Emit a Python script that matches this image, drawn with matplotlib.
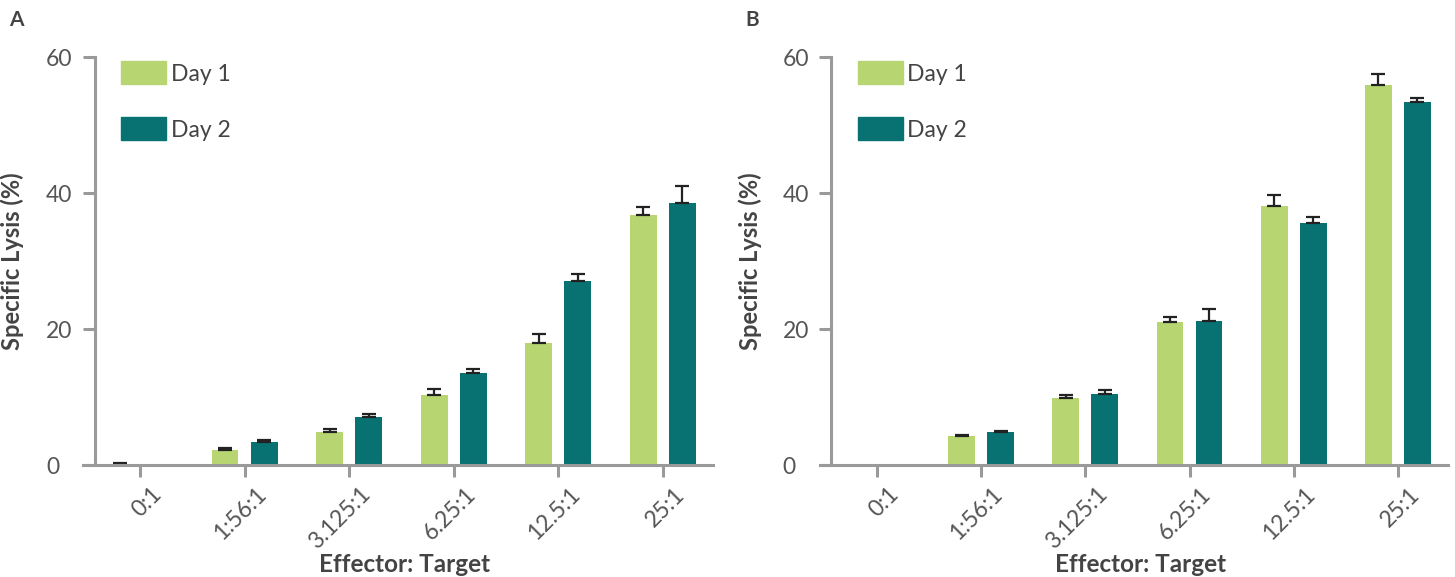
import matplotlib
matplotlib.use('Agg')
import matplotlib.pyplot as plt
from matplotlib.patches import Rectangle
from matplotlib.transforms import ScaledTranslation
import numpy as np

plt.rcParams['font.family'] = ['Lato', 'DejaVu Sans']

ratios = ['0:1', '1:56:1', '3.125:1', '6.25:1', '12.5:1', '25:1']

# panel A
a_day1 = [0.15, 2.2, 4.85, 10.3, 17.9, 36.8]
a_day1_err = [0.1, 0.3, 0.5, 0.9, 1.4, 1.1]
a_day2 = [0, 3.4, 7.05, 13.5, 27.05, 38.5]
a_day2_err = [0, 0.3, 0.5, 0.6, 1.0, 2.6]

# panel B
b_day1 = [0, 4.25, 9.85, 21.0, 38.1, 55.9]
b_day1_err = [0, 0.15, 0.4, 0.8, 1.65, 1.6]
b_day2 = [0, 4.85, 10.45, 21.2, 35.6, 53.4]
b_day2_err = [0, 0.15, 0.6, 1.7, 0.8, 0.6]

series_names = ['Day 1', 'Day 2']
yticks = [0, 20, 40, 60]

C_DAY1 = '#b7d672'
C_DAY2 = '#087171'
C_AXIS = '#9a9a9a'
C_TEXT = '#444444'

BAR_W = 0.258
OFFSET = 0.187

fig = plt.figure(figsize=(14.55, 5.77), dpi=100)
ax_a = fig.add_axes([83 / 1455, 112 / 577, 630 / 1455, 408 / 577])
ax_b = fig.add_axes([820 / 1455, 112 / 577, 628 / 1455, 408 / 577])


def draw_bars(ax, xpos, vals, errs, color):
    ax.bar(xpos, vals, BAR_W, color=color, zorder=2)
    # upper error bars only, skipped where there is no spread
    keep = np.array(errs) > 0
    ax.errorbar(xpos[keep], np.array(vals)[keep],
                yerr=[np.zeros(keep.sum()), np.array(errs)[keep]],
                fmt='none', ecolor='#222222', elinewidth=1.6, capsize=5,
                capthick=1.6, zorder=3)


def draw_panel(ax, d1, e1, d2, e2, letter, letter_x):
    x = np.arange(len(ratios))
    draw_bars(ax, x - OFFSET, d1, e1, C_DAY1)
    draw_bars(ax, x + OFFSET, d2, e2, C_DAY2)

    ax.set_xlim(-0.545, 5.48)
    ax.set_ylim(0, 60)

    for s in ['top', 'right']:
        ax.spines[s].set_visible(False)
    ax.spines['left'].set_position(('data', -0.435))
    ax.spines['left'].set_bounds(0, 60)
    for s in ['left', 'bottom']:
        ax.spines[s].set_color(C_AXIS)
        ax.spines[s].set_linewidth(2.2)
        ax.spines[s].set_zorder(3)

    ax.set_yticks(yticks)
    ax.set_xticks(x)
    ax.set_xticklabels(ratios, rotation=45, ha='right', va='top',
                       rotation_mode='anchor')
    ax.tick_params(axis='both', color=C_AXIS, width=2.2, length=8.5,
                   labelcolor='#555555', labelsize=16.5)
    ax.tick_params(axis='x', pad=5)
    ax.tick_params(axis='y', pad=26.5)
    shift = ScaledTranslation(0.11, 0, fig.dpi_scale_trans)
    for lab in ax.get_xticklabels():
        lab.set_transform(lab.get_transform() + shift)
    for lab in ax.get_yticklabels():
        lab.set_ha('left')

    ax.set_ylabel('Specific Lysis (%)', fontsize=17, fontweight='bold',
                  color=C_TEXT)
    ax.yaxis.set_label_coords(-0.093, 0.5)
    ax.set_xlabel('Effector: Target', fontsize=17.5, fontweight='bold',
                  color=C_TEXT, va='center')
    ax.xaxis.set_label_coords(0.51, -0.245)

    # legend drawn as plain boxes with labels
    for i, (name, col) in enumerate(zip(series_names, [C_DAY1, C_DAY2])):
        y0 = 0.934 - i * 0.137
        ax.add_patch(Rectangle((0.06, y0), 0.0714, 0.0564, color=col,
                               transform=ax.transAxes, clip_on=False))
        ax.text(0.139, y0 + 0.022, name, transform=ax.transAxes,
                fontsize=16.5, color=C_TEXT, va='center', ha='left')

    fig.text(letter_x, 1 - 20 / 577, letter, fontsize=15, fontweight='bold',
             color=C_TEXT, va='center', ha='left')


draw_panel(ax_a, a_day1, a_day1_err, a_day2, a_day2_err, 'A', 9 / 1455)
draw_panel(ax_b, b_day1, b_day1_err, b_day2, b_day2_err, 'B', 745 / 1455)

fig.savefig('out.png', dpi=100)
